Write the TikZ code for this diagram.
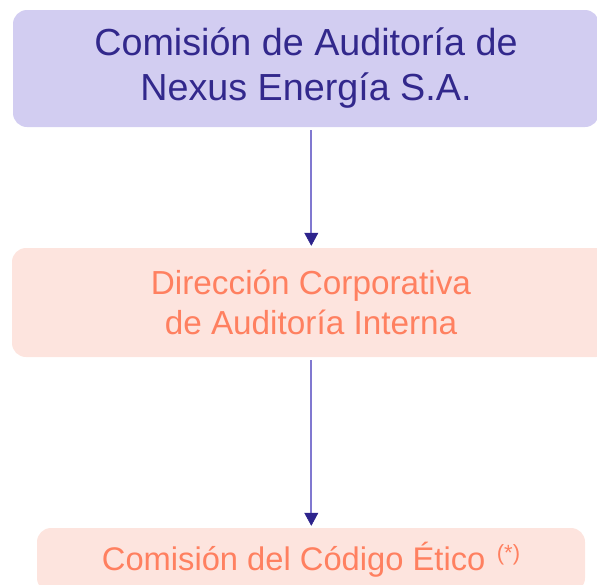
\documentclass[tikz,border=0pt]{standalone}
\usepackage{fontspec}
\setmainfont{Liberation Sans}
\usetikzlibrary{arrows.meta}
\definecolor{topfill}{RGB}{210,205,241}
\definecolor{toptext}{RGB}{50,40,140}
\definecolor{peachfill}{RGB}{253,228,222}
\definecolor{peachtext}{RGB}{255,128,96}
\definecolor{shaft}{RGB}{128,120,208}
\definecolor{tipc}{RGB}{45,36,140}
\begin{document}
\begin{tikzpicture}[x=1pt,y=1pt,
  box/.style={rounded corners=14pt, inner sep=0pt, align=center},
  conn/.style={draw=shaft, line width=2pt, -{Triangle[length=13pt,width=14pt,color=tipc,fill=tipc,line width=0.5pt]}, shorten <=3pt, shorten >=2pt}]
\useasboundingbox (0,0) rectangle (597,-584);
\clip (0,0) rectangle (597,-584);
\node[box, fill=topfill, text=toptext, minimum width=586, minimum height=117,
  font=\fontsize{37.7}{45}\selectfont] (a) at (306,-68.5)
  {Comisión de Auditoría de\\Nexus Energía S.A.};
\node[box, fill=peachfill, text=peachtext, minimum width=598, minimum height=109,
  font=\fontsize{33.3}{40}\selectfont] (b) at (311,-302.5)
  {Dirección Corporativa\\de Auditoría Interna};
\node[box, fill=peachfill, text=peachtext, minimum width=548, minimum height=64,
  font=\fontsize{32.7}{39}\selectfont] (c) at (311,-560)
  {Comisión del Código Ético\hspace{0.35em}\raisebox{0.3em}{\fontsize{22}{24}\selectfont(*)}};
\draw[conn] ([xshift=5.3pt]a.south) -- ([xshift=0.3pt]b.north);
\draw[conn] ([xshift=0.3pt]b.south) -- ([xshift=0.3pt]c.north);
\end{tikzpicture}
\end{document}
